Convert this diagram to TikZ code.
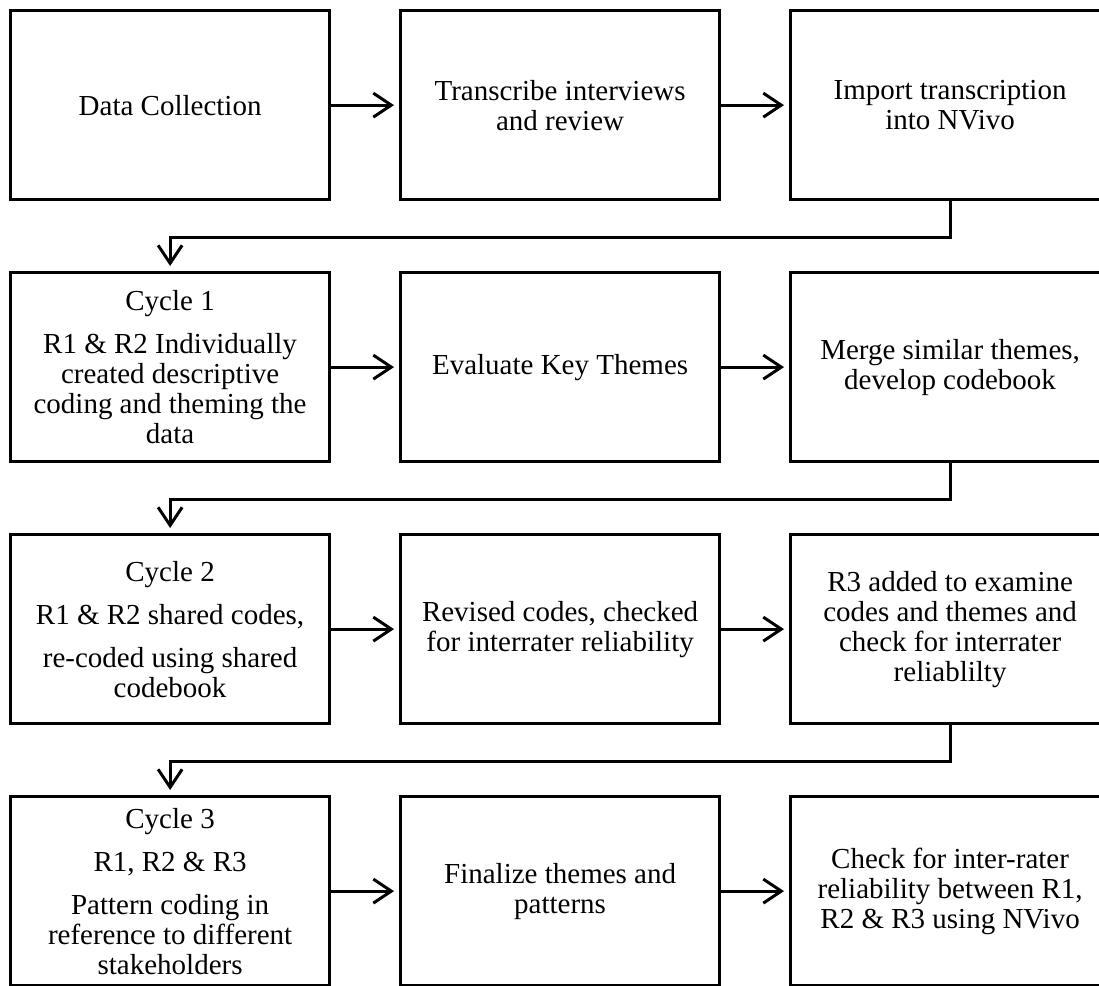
\documentclass[tikz,border=0pt]{standalone}
\usepackage{fontspec}
\setmainfont{Liberation Serif}
\usetikzlibrary{arrows.meta,positioning}

\begin{document}
\begin{tikzpicture}[
  node distance=34.9pt and 33.9pt,
  box/.style={draw=black, fill=white, line width=1.6pt, minimum width=159.5pt, minimum height=94.5pt, align=center, inner sep=2pt, font=\fontsize{14.5}{15}\selectfont},
  arrow/.style={-{Straight Barb[length=9pt, width=12pt]}, line width=1.5pt, shorten >=2.5pt},
]
\useasboundingbox (0,0) rectangle (549.5pt,-493pt);
\node[box, anchor=north west] (collect) at (4.5pt,-4.5pt) {Data Collection};
\node[box, right=of collect] (transcribe) {Transcribe interviews\\ and review};
\node[box, right=of transcribe] (import) {Import transcription\\ into NVivo};
\node[box, below=of collect] (cycone) {Cycle 1\\[6.5pt] R1 \& R2 Individually\\ created descriptive\\ coding and theming the\\ data};
\node[box, right=of cycone] (evaluate) {Evaluate Key Themes};
\node[box, right=of evaluate] (merge) {Merge similar themes,\\ develop codebook};
\node[box, below=of cycone] (cyctwo) {Cycle 2\\[6.5pt] R1 \& R2 shared codes,\\[6.5pt] re-coded using shared\\ codebook};
\node[box, right=of cyctwo] (revise) {Revised codes, checked\\ for interrater reliability};
\node[box, right=of revise] (examine) {R3 added to examine\\ codes and themes and\\ check for interrater\\ reliablilty};
\node[box, below=of cyctwo] (cycthree) {Cycle 3\\[6.5pt] R1, R2 \& R3\\[6.5pt] Pattern coding in\\ reference to different\\ stakeholders};
\node[box, right=of cycthree] (finalize) {Finalize themes and\\ patterns};
\node[box, right=of finalize] (check) {Check for inter-rater\\ reliability between R1,\\ R2 \& R3 using NVivo};
\draw[arrow] (collect) -- (transcribe);
\draw[arrow] (transcribe) -- (import);
\draw[arrow] (import.south) -- ++(0,-18.25pt) -| (cycone.north);
\draw[arrow] (cycone) -- (evaluate);
\draw[arrow] (evaluate) -- (merge);
\draw[arrow] (merge.south) -- ++(0,-18.25pt) -| (cyctwo.north);
\draw[arrow] (cyctwo) -- (revise);
\draw[arrow] (revise) -- (examine);
\draw[arrow] (examine.south) -- ++(0,-18.25pt) -| (cycthree.north);
\draw[arrow] (cycthree) -- (finalize);
\draw[arrow] (finalize) -- (check);
\end{tikzpicture}
\end{document}
